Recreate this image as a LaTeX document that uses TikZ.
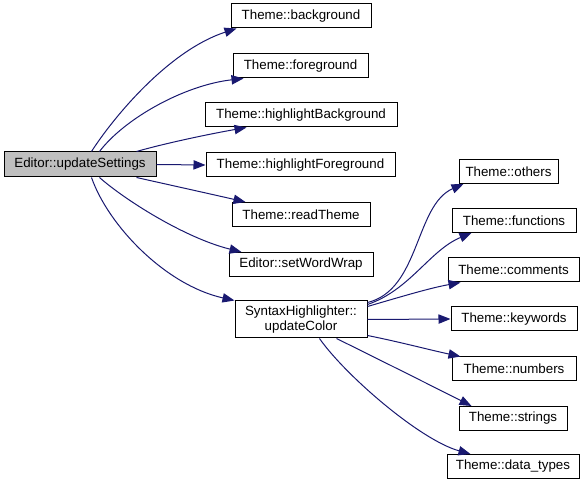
\documentclass[tikz,border=0pt]{standalone}
\usepackage{fontspec}
\setmainfont{Liberation Sans}
\usetikzlibrary{arrows.meta,calc}
\definecolor{edgeblue}{HTML}{191970}
\definecolor{boxgray}{HTML}{BFBFBF}
\begin{document}
\begin{tikzpicture}[x=0.75pt,y=-0.75pt,
  box/.style={draw=black,line width=0.75pt,fill=white,rectangle,inner sep=0pt,
    font=\fontsize{10}{11.5}\selectfont,align=center,minimum height=24*0.75pt},
  edge/.style={draw=edgeblue,line width=0.75pt,-{Triangle[length=9pt,width=7pt]}}]
\useasboundingbox (0,0) rectangle (587,485);
% left node
\node[box,fill=boxgray,minimum width=152*0.75pt,minimum height=25*0.75pt] (upd) at (80,164.5) {Editor::updateSettings};
% middle column
\node[box,minimum width=140*0.75pt] (bg) at (301,16) {Theme::background};
\node[box,minimum width=135*0.75pt] (fg) at (300.5,66) {Theme::foreground};
\node[box,minimum width=192*0.75pt] (hb) at (301,115) {Theme::highlightBackground};
\node[box,minimum width=189*0.75pt] (hf) at (300.5,165) {Theme::highlightForeground};
\node[box,minimum width=138*0.75pt] (rt) at (301,214.5) {Theme::readTheme};
\node[box,minimum width=144*0.75pt] (sw) at (301,264.5) {Editor::setWordWrap};
\node[box,minimum width=132*0.75pt,minimum height=37*0.75pt] (sh) at (301,319.5) {SyntaxHighlighter::\\updateColor};
% right column
\node[box,minimum width=99*0.75pt] (ot) at (508.5,171.5) {Theme::others};
\node[box,minimum width=124*0.75pt] (fn) at (514,220.5) {Theme::functions};
\node[box,minimum width=131*0.75pt] (cm) at (513.5,270) {Theme::comments};
\node[box,minimum width=126*0.75pt] (kw) at (514,319) {Theme::keywords};
\node[box,minimum width=124*0.75pt] (nm) at (514,369) {Theme::numbers};
\node[box,minimum width=108*0.75pt] (st) at (513,418.5) {Theme::strings};
\node[box,minimum width=132*0.75pt] (dt) at (513,466.5) {Theme::data\_types};
% edges from Editor::updateSettings
\draw[edge] ($(upd.north west)+(88,0)$) .. controls (115,115) and (170,50) .. ($(bg.south west)+(6,0)$);
\draw[edge] ($(upd.north west)+(96,0)$) .. controls (125,118) and (185,85) .. ($(fg.south west)+(11,0)$);
\draw[edge] ($(upd.north west)+(133,0)$) .. controls (170,142) and (215,133) .. ($(hb.south west)+(42,0)$);
\draw[edge] (upd.east) -- (hf.west);
\draw[edge] ($(upd.south west)+(133,0)$) .. controls (170,185) and (215,195) .. ($(rt.north west)+(14,0)$);
\draw[edge] ($(upd.south west)+(96,0)$) .. controls (125,200) and (185,238) .. ($(sw.north west)+(13,0)$);
\draw[edge] ($(upd.south west)+(88,0)$) .. controls (108,225) and (165,285) .. (sh.north west);
% edges from SyntaxHighlighter::updateColor
\draw[edge] ($(sh.north east)+(0,2)$) .. controls (420,290) and (415,205) .. ($(ot.south west)+(5,0)$);
\draw[edge] ($(sh.north east)+(0,4)$) .. controls (410,290) and (430,250) .. ($(fn.south west)+(20,0)$);
\draw[edge] ($(sh.north east)+(0,6)$) .. controls (400,297) and (430,288) .. ($(cm.south west)+(13,0)$);
\draw[edge] (sh.east) -- (kw.west);
\draw[edge] ($(sh.south east)+(0,-3)$) .. controls (400,342) and (430,350) .. ($(nm.north west)+(9,0)$);
\draw[edge] ($(sh.south west)+(102,0)$) .. controls (380,360) and (430,385) .. ($(st.north west)+(13,0)$);
\draw[edge] ($(sh.south west)+(85,0)$) .. controls (345,375) and (420,440) .. ($(dt.north west)+(24,0)$);
\end{tikzpicture}
\end{document}
